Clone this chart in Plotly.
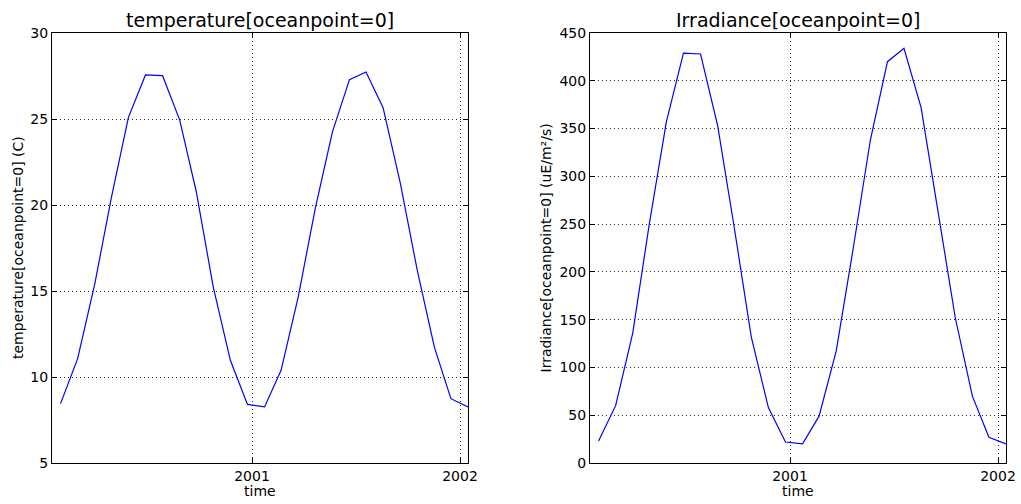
import plotly.graph_objects as go

# ---- data ----
dates = [
    "2000-01-31", "2000-03-01", "2000-03-31", "2000-04-29", "2000-05-29",
    "2000-06-28", "2000-07-28", "2000-08-27", "2000-09-25", "2000-10-25",
    "2000-11-24", "2000-12-24", "2001-01-23", "2001-02-21", "2001-03-23",
    "2001-04-22", "2001-05-22", "2001-06-21", "2001-07-20", "2001-08-19",
    "2001-09-18", "2001-10-18", "2001-11-17", "2001-12-16", "2002-01-15",
]
temperature = [8.45, 11.07, 15.4, 20.4, 25.08, 27.56, 27.52, 24.95, 20.8, 15.23,
               10.97, 8.41, 8.26, 10.39, 14.65, 19.8, 24.24, 27.29, 27.73, 25.66,
               21.3, 16.2, 11.74, 8.74, 8.26]
irradiance = [23, 60, 136, 250, 357, 429, 428, 353, 247, 132,
              58, 22, 20, 49, 117, 225, 338, 420, 434, 372,
              262, 152, 70, 27, 20]

x_tick_vals = ["2001-01-01", "2002-01-01"]
x_tick_text = ["2001", "2002"]
temp_ticks = [5, 10, 15, 20, 25, 30]
irr_ticks = [0, 50, 100, 150, 200, 250, 300, 350, 400, 450]

titles = ["temperature[oceanpoint=0]", "Irradiance[oceanpoint=0]"]
ylabels = ["temperature[oceanpoint=0] (C)", "Irradiance[oceanpoint=0] (uE/m²/s)"]
xlabel = "time"

# ---- layout geometry (pixels) ----
W, H = 1021, 504
FONT = "DejaVu Sans"

def px_x(p):
    return p / W

def px_y(p):
    return 1 - p / H

fig = go.Figure()
fig.add_trace(go.Scatter(x=dates, y=temperature, mode="lines",
                         line=dict(color="#0000ff", width=1.2),
                         xaxis="x", yaxis="y", showlegend=False))
fig.add_trace(go.Scatter(x=dates, y=irradiance, mode="lines",
                         line=dict(color="#0000ff", width=1.2),
                         xaxis="x2", yaxis="y2", showlegend=False))

common_axis = dict(
    showline=True, linecolor="black", linewidth=1, mirror="ticks",
    ticks="inside", ticklen=5, tickwidth=1, tickcolor="black",
    showgrid=True, gridcolor="rgba(0,0,0,0.85)", gridwidth=1, griddash="1px,3px",
    zeroline=False, automargin=False,
    tickfont=dict(family=FONT, size=14, color="black"),
)

xrange = ["2000-01-16", "2002-01-15"]

fig.update_layout(
    width=W, height=H,
    margin=dict(l=0, r=0, t=0, b=0),
    paper_bgcolor="white", plot_bgcolor="white",
    font=dict(family=FONT, color="black"),
    xaxis=dict(domain=[px_x(52), px_x(468)], anchor="y", range=xrange,
               type="date", tickmode="array", tickvals=x_tick_vals,
               ticktext=x_tick_text, **common_axis),
    yaxis=dict(domain=[px_y(463), px_y(33)], anchor="x", range=[5, 30],
               tickmode="array", tickvals=temp_ticks, **common_axis),
    xaxis2=dict(domain=[px_x(590), px_x(1006)], anchor="y2", range=xrange,
                type="date", tickmode="array", tickvals=x_tick_vals,
                ticktext=x_tick_text, **common_axis),
    yaxis2=dict(domain=[px_y(463), px_y(33)], anchor="x2", range=[0, 450],
                tickmode="array", tickvals=irr_ticks, **common_axis),
)

annots = []
centers = [260, 798]
ylabel_x = [18, 545.5]
for i in range(2):
    annots.append(dict(text=titles[i], x=px_x(centers[i]), y=px_y(20),
                       xref="paper", yref="paper", showarrow=False,
                       xanchor="center", yanchor="middle",
                       font=dict(family=FONT, size=19, color="black")))
    annots.append(dict(text=xlabel, x=px_x(centers[i]), y=px_y(491),
                       xref="paper", yref="paper", showarrow=False,
                       xanchor="center", yanchor="middle",
                       font=dict(family=FONT, size=14, color="black")))
    annots.append(dict(text=ylabels[i], x=px_x(ylabel_x[i]), y=px_y(248),
                       xref="paper", yref="paper", showarrow=False,
                       textangle=-90, xanchor="center", yanchor="middle",
                       font=dict(family=FONT, size=14, color="black")))
fig.update_layout(annotations=annots)

fig.write_html("out.html",
               config={"displayModeBar": False},
               post_script="document.body.style.margin='0';"
                           "document.body.style.overflow='hidden';")
